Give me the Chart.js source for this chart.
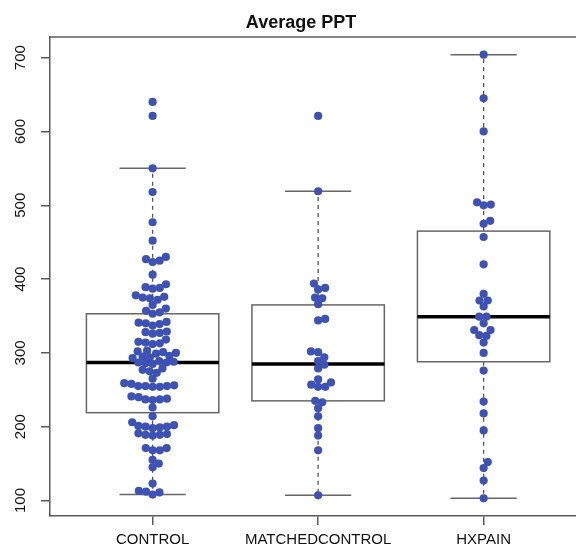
<!DOCTYPE html>
<html>
<head>
<meta charset="utf-8">
<script src="https://cdn.jsdelivr.net/npm/chart.js@4"></script>
<style>
  html, body { margin: 0; padding: 0; background: #fff; }
  canvas { display: block; }
</style>
</head>
<body>
<canvas id="ppt" width="576" height="549"></canvas>
<script>
// Values
const categories = ['CONTROL', 'MATCHEDCONTROL', 'HXPAIN'];

const control = [640, 621, 550, 518, 477, 452, 430, 427, 425, 423, 406, 393, 389, 388, 387,
  378, 376, 375, 374, 372, 365, 360, 357, 355, 353, 342, 341, 340, 339, 337, 329, 328, 327, 326,
  318, 315, 314, 313, 312, 303, 302, 301, 300, 299, 296, 295, 294, 293, 289, 288, 287, 287, 286, 285,
  279, 277, 275, 273, 265, 259, 258, 256, 255, 255, 255, 254, 254, 241, 240, 238, 237, 237, 236,
  226, 214, 206, 202, 201, 200, 200, 199, 198, 191, 190, 189, 189, 188, 171, 171, 168, 168,
  155, 150, 145, 123, 113, 112, 111, 108];
const matched = [621, 519, 394, 388, 386, 375, 374, 366, 346, 344, 302, 301, 294, 289, 284,
  279, 264, 260, 257, 254, 254, 235, 233, 225, 214, 198, 188, 168, 107];
const hxpain = [704, 645, 600, 504, 501, 500, 479, 475, 457, 420, 380, 371, 371, 363, 349, 349,
  340, 331, 331, 324, 323, 314, 300, 276, 234, 218, 195, 152, 144, 127, 103];

// boxplot statistics per category
const boxLow = [108, 107, 103];
const boxQ1 = [219, 235, 288];
const boxMedian = [287, 285, 349];
const boxQ3 = [353, 365, 465];
const boxHigh = [550, 519, 704];

const yTicks = [100, 200, 300, 400, 500, 600, 700];

const groups = [control, matched, hxpain];
const pointColor = '#3e52b4';
const frameColor = '#5a5a5a';
const font = '"Liberation Sans", Arial, sans-serif';

// boxes, whiskers and the top frame line, drawn under the points
const boxPlugin = {
  id: 'boxes',
  beforeDatasetsDraw(chart) {
    const { ctx, chartArea, scales: { x, y } } = chart;
    ctx.save();
    ctx.strokeStyle = frameColor;
    ctx.lineWidth = 1.5;
    ctx.beginPath();
    ctx.moveTo(chartArea.left, chartArea.top);
    ctx.lineTo(chart.width, chartArea.top);
    ctx.stroke();

    categories.forEach((c, i) => {
      const cx = x.getPixelForValue(i + 1);
      const half = x.getPixelForValue(i + 1.4) - cx;
      const lo = y.getPixelForValue(boxLow[i]);
      const q1 = y.getPixelForValue(boxQ1[i]);
      const med = y.getPixelForValue(boxMedian[i]);
      const q3 = y.getPixelForValue(boxQ3[i]);
      const hi = y.getPixelForValue(boxHigh[i]);

      // dashed whiskers
      ctx.strokeStyle = '#555';
      ctx.lineWidth = 1.3;
      ctx.setLineDash([4, 4]);
      ctx.beginPath();
      ctx.moveTo(cx, q3); ctx.lineTo(cx, hi);
      ctx.moveTo(cx, q1); ctx.lineTo(cx, lo);
      ctx.stroke();
      ctx.setLineDash([]);

      // caps
      ctx.strokeStyle = '#666';
      ctx.lineWidth = 1.5;
      ctx.beginPath();
      ctx.moveTo(cx - half / 2, hi); ctx.lineTo(cx + half / 2, hi);
      ctx.moveTo(cx - half / 2, lo); ctx.lineTo(cx + half / 2, lo);
      ctx.stroke();

      // box
      ctx.strokeRect(cx - half, q3, half * 2, q1 - q3);

      // median
      ctx.strokeStyle = '#000';
      ctx.lineWidth = 3.5;
      ctx.beginPath();
      ctx.moveTo(cx - half, med); ctx.lineTo(cx + half, med);
      ctx.stroke();
    });
    ctx.restore();
  },
  afterDraw(chart) {
    const { ctx, scales: { y } } = chart;
    ctx.save();
    ctx.fillStyle = '#111';
    ctx.font = 'bold 18px ' + font;
    ctx.textAlign = 'center';
    ctx.textBaseline = 'alphabetic';
    ctx.fillText('Average PPT', 301, 28);

    // rotated y tick labels, like R's default
    ctx.font = '15px ' + font;
    ctx.textBaseline = 'middle';
    yTicks.forEach(v => {
      ctx.save();
      ctx.translate(21, y.getPixelForValue(v));
      ctx.rotate(-Math.PI / 2);
      ctx.fillText(String(v), 0, 0);
      ctx.restore();
    });
    ctx.restore();
  }
};

const chart = new Chart(document.getElementById('ppt'), {
  type: 'scatter',
  data: {
    datasets: groups.map((vals, i) => ({
      label: categories[i],
      data: vals.map(v => ({ x: i + 1, y: v })),
      backgroundColor: pointColor,
      borderWidth: 0,
      pointRadius: 4.1,
      pointHoverRadius: 4.1
    }))
  },
  options: {
    responsive: false,
    animation: false,
    layout: { autoPadding: false, padding: { top: 37, left: 0, right: 0, bottom: 0 } },
    plugins: { legend: { display: false }, tooltip: { enabled: false } },
    scales: {
      x: {
        type: 'linear',
        min: 0.38,
        max: 3.558,
        afterBuildTicks: axis => { axis.ticks = [1, 2, 3].map(v => ({ value: v })); },
        afterFit: s => { s.height = 33; },
        grid: { drawOnChartArea: false, drawTicks: true, tickLength: 9, color: frameColor, lineWidth: 1.5 },
        border: { display: true, color: frameColor, width: 1.5 },
        ticks: {
          callback: v => categories[v - 1] || '',
          autoSkip: false,
          maxRotation: 0,
          padding: 6,
          color: '#111',
          font: { family: font, size: 15 }
        }
      },
      y: {
        min: 79,
        max: 728,
        afterBuildTicks: axis => { axis.ticks = yTicks.map(v => ({ value: v })); },
        afterFit: s => { s.width = 50; },
        grid: { drawOnChartArea: false, drawTicks: true, tickLength: 9, color: frameColor, lineWidth: 1.5 },
        border: { display: true, color: frameColor, width: 1.5 },
        ticks: { display: false }
      }
    }
  },
  plugins: [boxPlugin]
});

// beeswarm offsets, computed in pixels from the chart's own scales
function swarm(values, yScale, spacing) {
  const order = values.map((v, i) => i).sort((a, b) => values[a] - values[b]);
  const placed = [];
  const offsets = new Array(values.length).fill(0);
  const s2 = spacing * spacing;
  order.forEach(i => {
    const py = yScale.getPixelForValue(values[i]);
    const near = placed.filter(p => Math.abs(p.py - py) < spacing);
    const cands = [0];
    near.forEach(p => {
      const dx = Math.sqrt(s2 - (p.py - py) ** 2);
      cands.push(p.px + dx, p.px - dx);
    });
    const ok = cands.filter(c => near.every(p => (c - p.px) ** 2 + (p.py - py) ** 2 >= s2 - 0.01));
    ok.sort((a, b) => Math.abs(a) - Math.abs(b));
    const px = ok.length ? ok[0] : 0;
    placed.push({ px, py });
    offsets[i] = px;
  });
  return offsets;
}

const xs = chart.scales.x;
const unit = xs.getPixelForValue(2) - xs.getPixelForValue(1);
groups.forEach((vals, i) => {
  const off = swarm(vals, chart.scales.y, 7.2);
  chart.data.datasets[i].data = vals.map((v, k) => ({ x: i + 1 + off[k] / unit, y: v }));
});
chart.update();
</script>
</body>
</html>
